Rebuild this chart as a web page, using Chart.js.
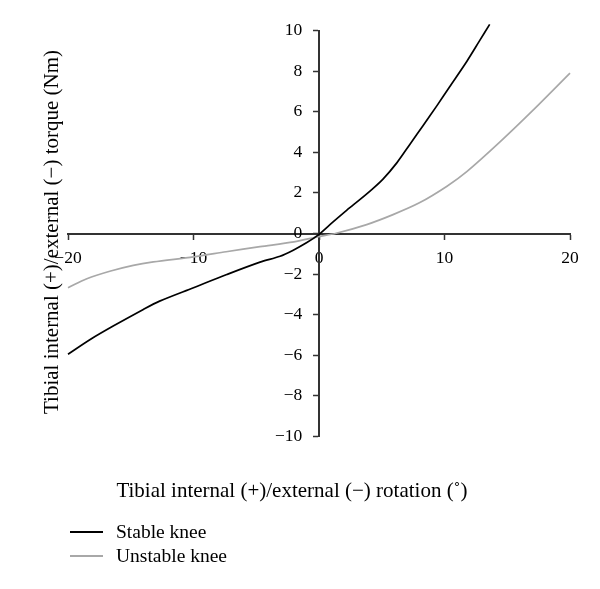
<!DOCTYPE html>
<html>
<head>
<meta charset="utf-8">
<script src="https://cdn.jsdelivr.net/npm/chart.js@4.4.1/dist/chart.umd.min.js"></script>
<style>
  html, body { margin: 0; padding: 0; background: #fff; }
  #wrap { position: relative; width: 600px; height: 589px; }
  #legend { position: absolute; left: 70px; top: 520px; margin: 0; padding: 0; list-style: none;
    font-family: 'Liberation Serif', serif; font-size: 19.5px; color: #000; }
  #legend li { display: flex; align-items: center; height: 24px; }
  #legend .swatch { display: inline-block; width: 33px; height: 0; margin-right: 13px; }
</style>
</head>
<body>
<div id="wrap">
  <canvas id="torque-chart"></canvas>
  <ul id="legend"></ul>
</div>
<script>
var STABLE_X = [-20, -18.2, -16.4, -14, -12.7, -10, -7.35, -4.7, -3.1, -2.05, -1, 0, 1.1, 2.2, 3.3, 4.2, 5.1, 6.2, 7.25, 8.3, 9.4, 10.4, 11.8, 12.8, 13.6];
var STABLE_Y = [-5.95, -5.21, -4.56, -3.74, -3.33, -2.67, -2.02, -1.41, -1.12, -0.82, -0.46, -0.04, 0.56, 1.14, 1.69, 2.16, 2.68, 3.48, 4.4, 5.32, 6.3, 7.22, 8.5, 9.5, 10.3];
var UNSTABLE_X = [-20, -18.5, -16.6, -14.8, -13.2, -10, -7.4, -4.7, -2, 0, 1.3, 3.8, 5.9, 8, 10.2, 11.8, 14.4, 17.1, 20];
var UNSTABLE_Y = [-2.67, -2.23, -1.85, -1.57, -1.4, -1.15, -0.9, -0.65, -0.41, -0.15, 0, 0.44, 0.93, 1.51, 2.33, 3.06, 4.5, 6.1, 7.9];

var X_TICKS = [-20, -10, 0, 10, 20];
var Y_TICKS = [-10, -8, -6, -4, -2, 0, 2, 4, 6, 8, 10];

var X_TITLE = 'Tibial internal (+)/external (\u2212) rotation (\u02DA)';
var Y_TITLE = 'Tibial internal (+)/external (\u2212) torque (Nm)';

var SERIF = "'Liberation Serif', 'Times New Roman', serif";
var AXIS_COLOR = '#333333';

function toPoints(xs, ys) {
  return xs.map(function (x, i) { return { x: x, y: ys[i] }; });
}

function fmtTick(v) {
  return String(v).replace('-', '\u2212');
}

// centred y axis puts its labels right on the line, so pad them with spaces
function fmtYTick(v) {
  return fmtTick(v) + '   \u2009';
}

// axis titles drawn in free positions, like the figure
var axisTitles = {
  id: 'axisTitles',
  afterDraw: function (chart) {
    var ctx = chart.ctx;
    ctx.save();
    ctx.fillStyle = '#000';
    ctx.font = '21px ' + SERIF;
    ctx.textAlign = 'center';
    ctx.textBaseline = 'alphabetic';
    ctx.fillText(X_TITLE, 292, 497);
    ctx.translate(58, 232);
    ctx.rotate(-Math.PI / 2);
    ctx.fillText(Y_TITLE, 0, 0);
    ctx.restore();
  }
};

var ctx = document.getElementById('torque-chart').getContext('2d');
var chart = new Chart(ctx, {
  type: 'line',
  data: {
    datasets: [{
      label: 'Stable knee',
      data: toPoints(STABLE_X, STABLE_Y),
      borderColor: '#000000',
      borderWidth: 1.7,
      pointRadius: 0,
      tension: 0.3,
      clip: false,
    }, {
      label: 'Unstable knee',
      data: toPoints(UNSTABLE_X, UNSTABLE_Y),
      borderColor: '#a8a8a8',
      borderWidth: 1.7,
      pointRadius: 0,
      tension: 0.3,
      clip: false,
    }],
  },
  options: {
    responsive: true,
    maintainAspectRatio: false,
    animation: false,
    events: [],
    layout: { padding: { left: 68, right: 30, top: 30.5, bottom: 152.5 } },
    scales: {
      x: {
        type: 'linear',
        min: -20,
        max: 20,
        position: { y: 0 },
        afterFit: function (s) { s.height = 0; },
        afterBuildTicks: function (s) { s.ticks = X_TICKS.map(function (v) { return { value: v }; }); },
        grid: { drawOnChartArea: false, drawTicks: true, tickLength: 5, tickColor: AXIS_COLOR, tickWidth: 1.5 },
        border: { display: true, color: AXIS_COLOR, width: 2 },
        ticks: { color: '#000', padding: 9, maxRotation: 0, font: { family: SERIF, size: 17.5 }, callback: fmtTick },
      },
      y: {
        type: 'linear',
        min: -10,
        max: 10,
        position: { x: 0 },
        afterFit: function (s) { s.width = 0; },
        afterBuildTicks: function (s) { s.ticks = Y_TICKS.map(function (v) { return { value: v }; }); },
        grid: { drawOnChartArea: false, drawTicks: true, tickLength: 5, tickColor: AXIS_COLOR, tickWidth: 1.5 },
        border: { display: true, color: AXIS_COLOR, width: 2 },
        ticks: { color: '#000', font: { family: SERIF, size: 17.5 }, callback: fmtYTick },
      },
    },
    plugins: {
      legend: { display: false },
      tooltip: { enabled: false },
    },
  },
  plugins: [axisTitles],
});

// html legend built from the datasets
var legendEl = document.getElementById('legend');
chart.data.datasets.forEach(function (ds) {
  var li = document.createElement('li');
  var sw = document.createElement('span');
  sw.className = 'swatch';
  sw.style.borderTop = '2px solid ' + ds.borderColor;
  li.appendChild(sw);
  li.appendChild(document.createTextNode(ds.label));
  legendEl.appendChild(li);
});
</script>
</body>
</html>
